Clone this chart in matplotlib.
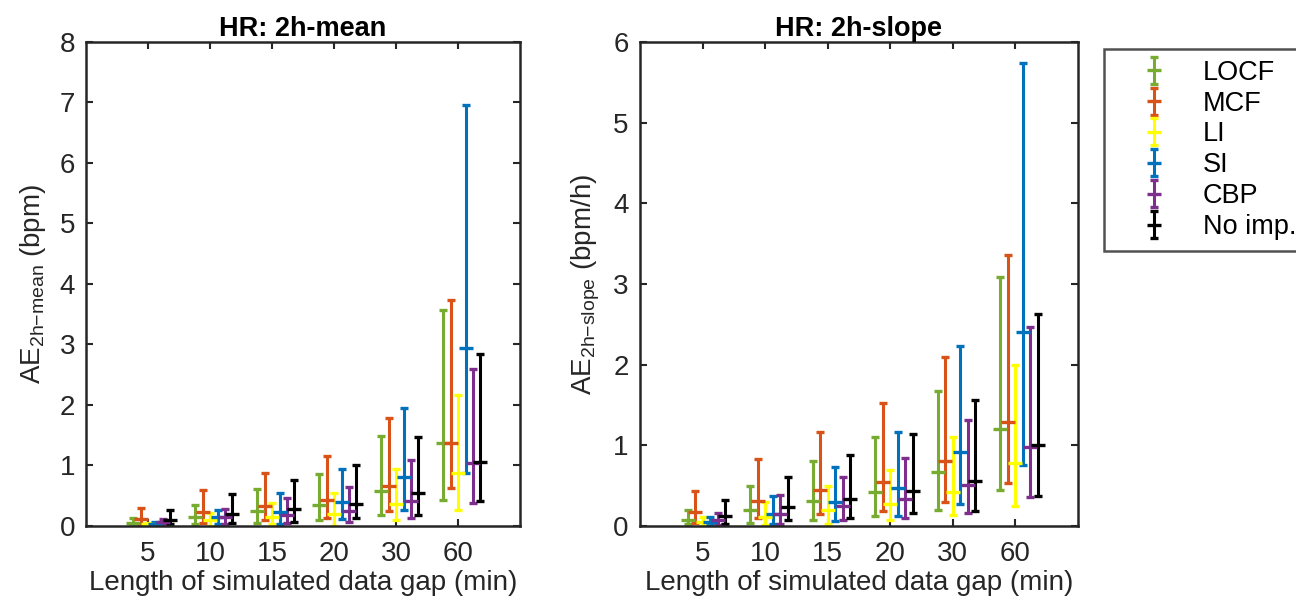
import matplotlib
matplotlib.use('Agg')
import matplotlib.pyplot as plt
import numpy as np

# ====================== Data ======================
gaps = ['5', '10', '15', '20', '30', '60']
methods = ['LOCF', 'MCF', 'LI', 'SI', 'CBP', 'No imp.']
colors = ['#77AC30', '#D95319', '#FFFF00', '#0072BD', '#7E2F8E', '#000000']

# HR: 2h-mean (bpm) -> median, lower, upper per method (rows) and gap (cols)
mean_med = [[0.05, 0.15, 0.24, 0.35, 0.58, 1.38],
            [0.11, 0.23, 0.33, 0.43, 0.66, 1.38],
            [0.03, 0.10, 0.15, 0.20, 0.36, 0.88],
            [0.04, 0.15, 0.23, 0.39, 0.81, 2.94],
            [0.06, 0.15, 0.19, 0.25, 0.41, 1.04],
            [0.10, 0.20, 0.28, 0.37, 0.54, 1.05]]
mean_lo = [[0.01, 0.03, 0.05, 0.10, 0.18, 0.43],
           [0.03, 0.05, 0.10, 0.13, 0.25, 0.63],
           [0.00, 0.00, 0.03, 0.00, 0.10, 0.26],
           [0.01, 0.03, 0.04, 0.12, 0.26, 0.87],
           [0.02, 0.03, 0.05, 0.07, 0.13, 0.38],
           [0.03, 0.05, 0.07, 0.13, 0.18, 0.41]]
mean_hi = [[0.14, 0.35, 0.61, 0.86, 1.48, 3.57],
           [0.30, 0.60, 0.87, 1.16, 1.78, 3.74],
           [0.05, 0.21, 0.38, 0.54, 0.94, 2.17],
           [0.07, 0.26, 0.54, 0.94, 1.95, 6.96],
           [0.11, 0.28, 0.46, 0.64, 1.09, 2.60],
           [0.26, 0.53, 0.76, 1.00, 1.47, 2.84]]

# HR: 2h-slope (bpm/h)
slope_med = [[0.07, 0.20, 0.31, 0.42, 0.67, 1.20],
             [0.17, 0.31, 0.45, 0.55, 0.80, 1.29],
             [0.05, 0.11, 0.20, 0.27, 0.42, 0.78],
             [0.05, 0.15, 0.30, 0.47, 0.92, 2.41],
             [0.07, 0.15, 0.25, 0.34, 0.51, 0.98],
             [0.12, 0.24, 0.33, 0.44, 0.56, 1.00]]
slope_lo = [[0.02, 0.04, 0.08, 0.12, 0.20, 0.45],
            [0.04, 0.10, 0.15, 0.18, 0.30, 0.53],
            [0.00, 0.01, 0.03, 0.07, 0.14, 0.25],
            [0.01, 0.03, 0.06, 0.12, 0.27, 0.76],
            [0.01, 0.03, 0.07, 0.10, 0.16, 0.36],
            [0.03, 0.07, 0.10, 0.16, 0.18, 0.37]]
slope_hi = [[0.20, 0.49, 0.80, 1.10, 1.67, 3.09],
            [0.44, 0.83, 1.17, 1.53, 2.09, 3.36],
            [0.11, 0.30, 0.50, 0.70, 1.10, 2.00],
            [0.11, 0.37, 0.73, 1.16, 2.23, 5.74],
            [0.16, 0.39, 0.61, 0.84, 1.32, 2.47],
            [0.32, 0.61, 0.88, 1.14, 1.56, 2.63]]

# ====================== Style ======================
plt.rcParams['font.family'] = ['Liberation Sans', 'DejaVu Sans']
plt.rcParams['mathtext.fontset'] = 'custom'
plt.rcParams['mathtext.rm'] = 'Liberation Sans'
plt.rcParams['mathtext.it'] = 'Liberation Sans:italic'
plt.rcParams['mathtext.bf'] = 'Liberation Sans:bold'
axis_col = '#262626'

fig = plt.figure(figsize=(12.96, 6.03), dpi=100)
ax_mean = fig.add_axes([0.0664, 0.1277, 0.3349, 0.8027])
ax_slope = fig.add_axes([0.4938, 0.1277, 0.338, 0.8027])

x = np.arange(1, len(gaps) + 1)
offset = 0.12


def draw_panel(ax, med, lo, hi, ymax, title, ylabel):
    handles = []
    for i, name in enumerate(methods):
        m = np.array(med[i])
        err = [m - np.array(lo[i]), np.array(hi[i]) - m]
        h = ax.errorbar(x + (i - 2) * offset, m, yerr=err, fmt='_', color=colors[i],
                        ecolor=colors[i], elinewidth=2.2, capsize=3, capthick=2.2,
                        markersize=10, markeredgewidth=2.4, label=name)
        handles.append(h)

    ax.set_xlim(0, 7)
    ax.set_ylim(0, ymax)
    ax.set_xticks(x)
    ax.set_xticklabels(gaps)
    ax.set_yticks(np.arange(0, ymax + 1))
    ax.tick_params(direction='in', length=5, width=1.5, top=True, right=True,
                   labelsize=20, colors=axis_col)
    ax.tick_params(axis='x', pad=11)
    ax.tick_params(axis='y', pad=8)
    for s in ax.spines.values():
        s.set_linewidth(1.8)
        s.set_color(axis_col)
    ax.set_title(title, fontsize=19.5, fontweight='bold', pad=4)
    ax.set_xlabel('Length of simulated data gap (min)', fontsize=20, color=axis_col, labelpad=2)
    ax.set_ylabel(ylabel, fontsize=20, color=axis_col, labelpad=8)
    return handles


draw_panel(ax_mean, mean_med, mean_lo, mean_hi, 8, 'HR: 2h-mean',
           r'AE$_{\mathrm{2h{-}mean}}$ (bpm)')
handles = draw_panel(ax_slope, slope_med, slope_lo, slope_hi, 6, 'HR: 2h-slope',
                     r'AE$_{\mathrm{2h{-}slope}}$ (bpm/h)')

# ====================== Legend ======================
leg = fig.legend(handles=handles, labels=methods, loc='upper left',
                 bbox_to_anchor=(0.852, 0.919), fontsize=19.5, frameon=True,
                 fancybox=False, borderpad=0.4, labelspacing=0.18,
                 handlelength=2.9, handletextpad=0.34, borderaxespad=0)
leg.get_frame().set_edgecolor(axis_col)
leg.get_frame().set_linewidth(1.8)

fig.savefig('out.png', dpi=100)
